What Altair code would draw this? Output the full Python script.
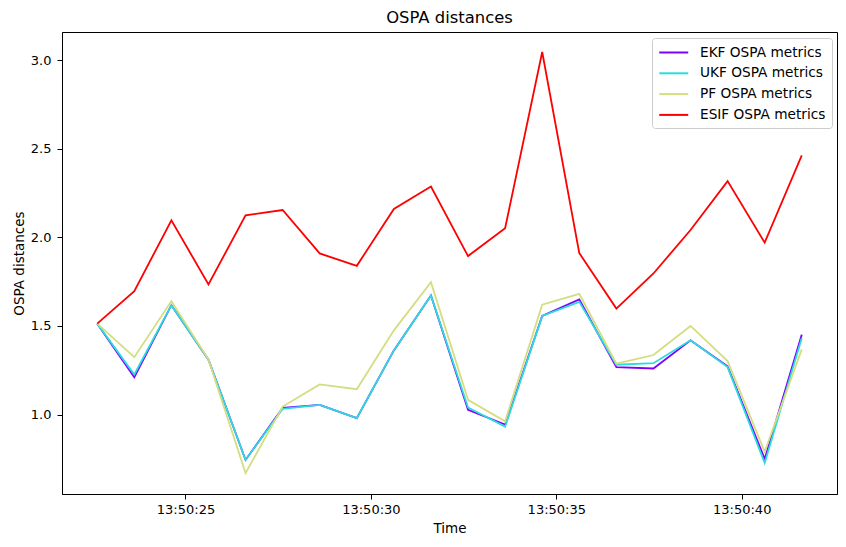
import altair as alt
import pandas as pd

# time stamps (seconds after 13:50:00)
seconds = [22.62, 23.62, 24.62, 25.62, 26.62, 27.62, 28.62, 29.62, 30.62, 31.62,
           32.62, 33.62, 34.62, 35.62, 36.62, 37.62, 38.62, 39.62, 40.62, 41.62]

ekf = [1.513, 1.211, 1.617, 1.310, 0.744, 1.038, 1.055, 0.980, 1.362, 1.672,
       1.027, 0.943, 1.556, 1.649, 1.268, 1.260, 1.419, 1.272, 0.750, 1.451]
ukf = [1.513, 1.226, 1.617, 1.310, 0.744, 1.032, 1.055, 0.980, 1.362, 1.672,
       1.040, 0.932, 1.556, 1.636, 1.281, 1.290, 1.419, 1.268, 0.727, 1.432]
pf = [1.513, 1.324, 1.640, 1.310, 0.670, 1.045, 1.170, 1.143, 1.475, 1.747,
      1.083, 0.962, 1.620, 1.681, 1.287, 1.336, 1.500, 1.302, 0.790, 1.368]
esif = [1.513, 1.696, 2.096, 1.734, 2.124, 2.154, 1.909, 1.839, 2.160, 2.286,
        1.894, 2.051, 3.045, 1.911, 1.598, 1.796, 2.041, 2.317, 1.970, 2.462]

series_names = ["EKF OSPA metrics", "UKF OSPA metrics", "PF OSPA metrics", "ESIF OSPA metrics"]
series_colors = ["#8000ff", "#2adddd", "#d4dd80", "#ff0000"]
y_ticks = [1.0, 1.5, 2.0, 2.5, 3.0]
x_tick_seconds = [25, 30, 35, 40]


def ts(s):
    whole = int(s)
    ms = int(round((s - whole) * 1000))
    return f"2024-01-01T13:50:{whole:02d}.{ms:03d}"


def dt(s):
    whole = int(s)
    ms = int(round((s - whole) * 1000))
    return alt.DateTime(year=2024, month=1, date=1, hours=13, minutes=50,
                        seconds=whole, milliseconds=ms)


rows = []
for name, vals in zip(series_names, [ekf, ukf, pf, esif]):
    for s, v in zip(seconds, vals):
        rows.append({"Time": ts(s), "value": v, "series": name})
df = pd.DataFrame(rows)

chart = alt.Chart(df).mark_line(strokeWidth=1.8).encode(
    x=alt.X("Time:T",
            scale=alt.Scale(domain=[dt(21.67), dt(42.57)], nice=False),
            axis=alt.Axis(title="Time", values=[dt(s) for s in x_tick_seconds],
                          format="%H:%M:%S", grid=False, labelAngle=0)),
    y=alt.Y("value:Q",
            scale=alt.Scale(domain=[0.552, 3.158], nice=False, zero=False),
            axis=alt.Axis(title="OSPA distances", values=y_ticks, format=".1f", grid=False)),
    color=alt.Color("series:N",
                    scale=alt.Scale(domain=series_names, range=series_colors),
                    legend=alt.Legend(title=None, orient="none", legendX=590, legendY=6,
                                      symbolType="M-1,0L3,0", symbolSize=210,
                                      symbolStrokeWidth=2, labelFontSize=13.7,
                                      labelFont="DejaVu Sans", labelColor="black",
                                      rowPadding=4.8, padding=6, strokeColor="#cccccc",
                                      fillColor="white", cornerRadius=3,
                                      labelOffset=25)),
    order=alt.Order("series:N"),
).properties(
    width=775, height=462,
    title=alt.TitleParams("OSPA distances", fontSize=16.4, fontWeight="normal",
                          font="DejaVu Sans", color="black", offset=6),
    autosize=alt.AutoSizeParams(type="none"),
    padding={"left": 62, "top": 32, "right": 9, "bottom": 53},
).configure_view(
    stroke="black", strokeWidth=1
).configure_axis(
    domainColor="black", tickColor="black", tickSize=5, labelFontSize=13,
    labelFont="DejaVu Sans", labelColor="black", titleFont="DejaVu Sans",
    titleFontSize=13.5, titleFontWeight="normal", titleColor="black",
).configure_axisX(titlePadding=5, labelPadding=4).configure_axisY(titlePadding=4, labelPadding=6)

chart.save("out.html", embed_options={"renderer": "svg", "actions": False})
